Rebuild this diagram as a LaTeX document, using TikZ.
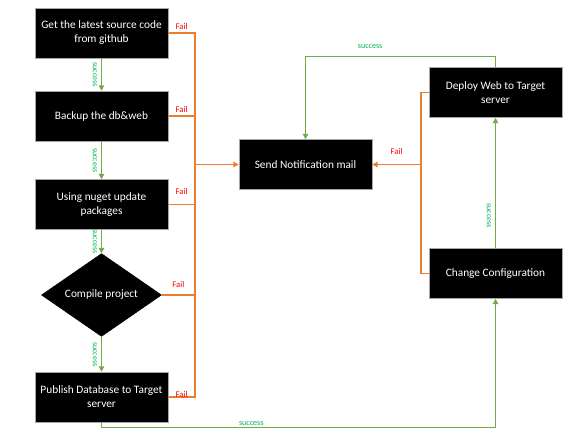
\documentclass[tikz,border=0pt]{standalone}
\usepackage{fontspec}
\setmainfont{Carlito}
\usepackage{xcolor}
\definecolor{okgreen}{RGB}{112,173,71}
\definecolor{lblgreen}{RGB}{0,176,80}
\definecolor{failorange}{RGB}{237,125,49}
\definecolor{failred}{RGB}{255,0,0}
\usetikzlibrary{arrows.meta,shapes.geometric,positioning,calc}

\begin{document}
\begin{tikzpicture}[
  x=0.75pt,y=-0.75pt,
  stepbox/.style={rectangle,draw=gray!70,fill=black,text=white,minimum width=99.75pt,minimum height=37.5pt,align=center,inner sep=1pt,font=\fontsize{8.5}{10.5}\selectfont},
  decbox/.style={diamond,draw=black,fill=black,text=white,minimum width=90pt,minimum height=48pt,inner sep=0pt,font=\fontsize{8.5}{10.5}\selectfont},
  failline/.style={failorange,line width=1.1pt},
  succline/.style={okgreen,line width=1pt},
  arrow/.style={-{Triangle[length=4pt,width=4pt]}},
  faillbl/.style={text=failred,font=\fontsize{6.5}{7}\selectfont,inner sep=1pt},
  succlbl/.style={text=lblgreen,font=\fontsize{6}{7}\selectfont,inner sep=1pt}
]
  \useasboundingbox (0,0) rectangle (580,439);

  % left column
  \node[stepbox] (getsrc) at (101.5,33) {Get the latest source code\\from github};
  \node[stepbox] (backup) at (101.5,116) {Backup the db\&web};
  \node[stepbox] (nuget) at (101.5,204.5) {Using nuget update\\packages};
  \node[decbox] (compile) at (101.5,295) {Compile project};
  \node[stepbox] (publish) at (101.5,397) {Publish Database to Target\\server};

  % mail and right column
  \node[stepbox] (mail) at (305.5,164.5) {Send Notification mail};
  \node[stepbox] (deploy) at (495.5,92.5) {Deploy Web to Target\\server};
  \node[stepbox] (config) at (495.5,273.5) {Change Configuration};

  \coordinate (lbus) at (195,0);
  \coordinate (rbus) at (421,0);

  % success chain
  \draw[succline,arrow] (getsrc) -- node[succlbl,rotate=-90,yshift=-5pt] {success} (backup);
  \draw[succline,arrow] (backup) -- node[succlbl,rotate=-90,yshift=-5pt] {success} (nuget);
  \draw[succline,arrow] (nuget) -- node[succlbl,rotate=-90,yshift=-5pt] {success} (compile);
  \draw[succline,arrow] (compile) -- node[succlbl,rotate=-90,yshift=-5pt] {success} (publish);
  \draw[succline,arrow] (publish.south) -- ++(0,5) -| node[pos=0.19,succlbl,above] {success} (config.south);
  \draw[succline,arrow] (config) -- node[pos=0.25,succlbl,rotate=-90,yshift=-5pt] {success} (deploy);
  \draw[succline,arrow] (deploy.north) -- ++(0,-11) -| node[pos=0.33,succlbl,above=4pt] {success} (mail.north);

  % fail lines
  \draw[failline] (getsrc.east) -- node[faillbl,above=1pt] {Fail} (getsrc.east -| lbus) -- (publish.east -| lbus) -- node[faillbl,above=-2pt] {Fail} (publish.east);
  \draw[failline] (backup.east) -- node[faillbl,above=1pt] {Fail} (backup.east -| lbus);
  \draw[failline] (nuget.east) -- node[faillbl,above=6pt] {Fail} (nuget.east -| lbus);
  \draw[failline] (compile.east) -- node[faillbl,above=4pt] {Fail} (compile.east -| lbus);
  \draw[failline,arrow] (lbus |- mail.west) -- (mail.west);

  \draw[failline] (deploy.west) -- (deploy.west -| rbus) -- (config.west -| rbus) -- (config.west);
  \draw[failline,arrow] (rbus |- mail.east) -- node[faillbl,above=6pt] {Fail} (mail.east);
\end{tikzpicture}
\end{document}
